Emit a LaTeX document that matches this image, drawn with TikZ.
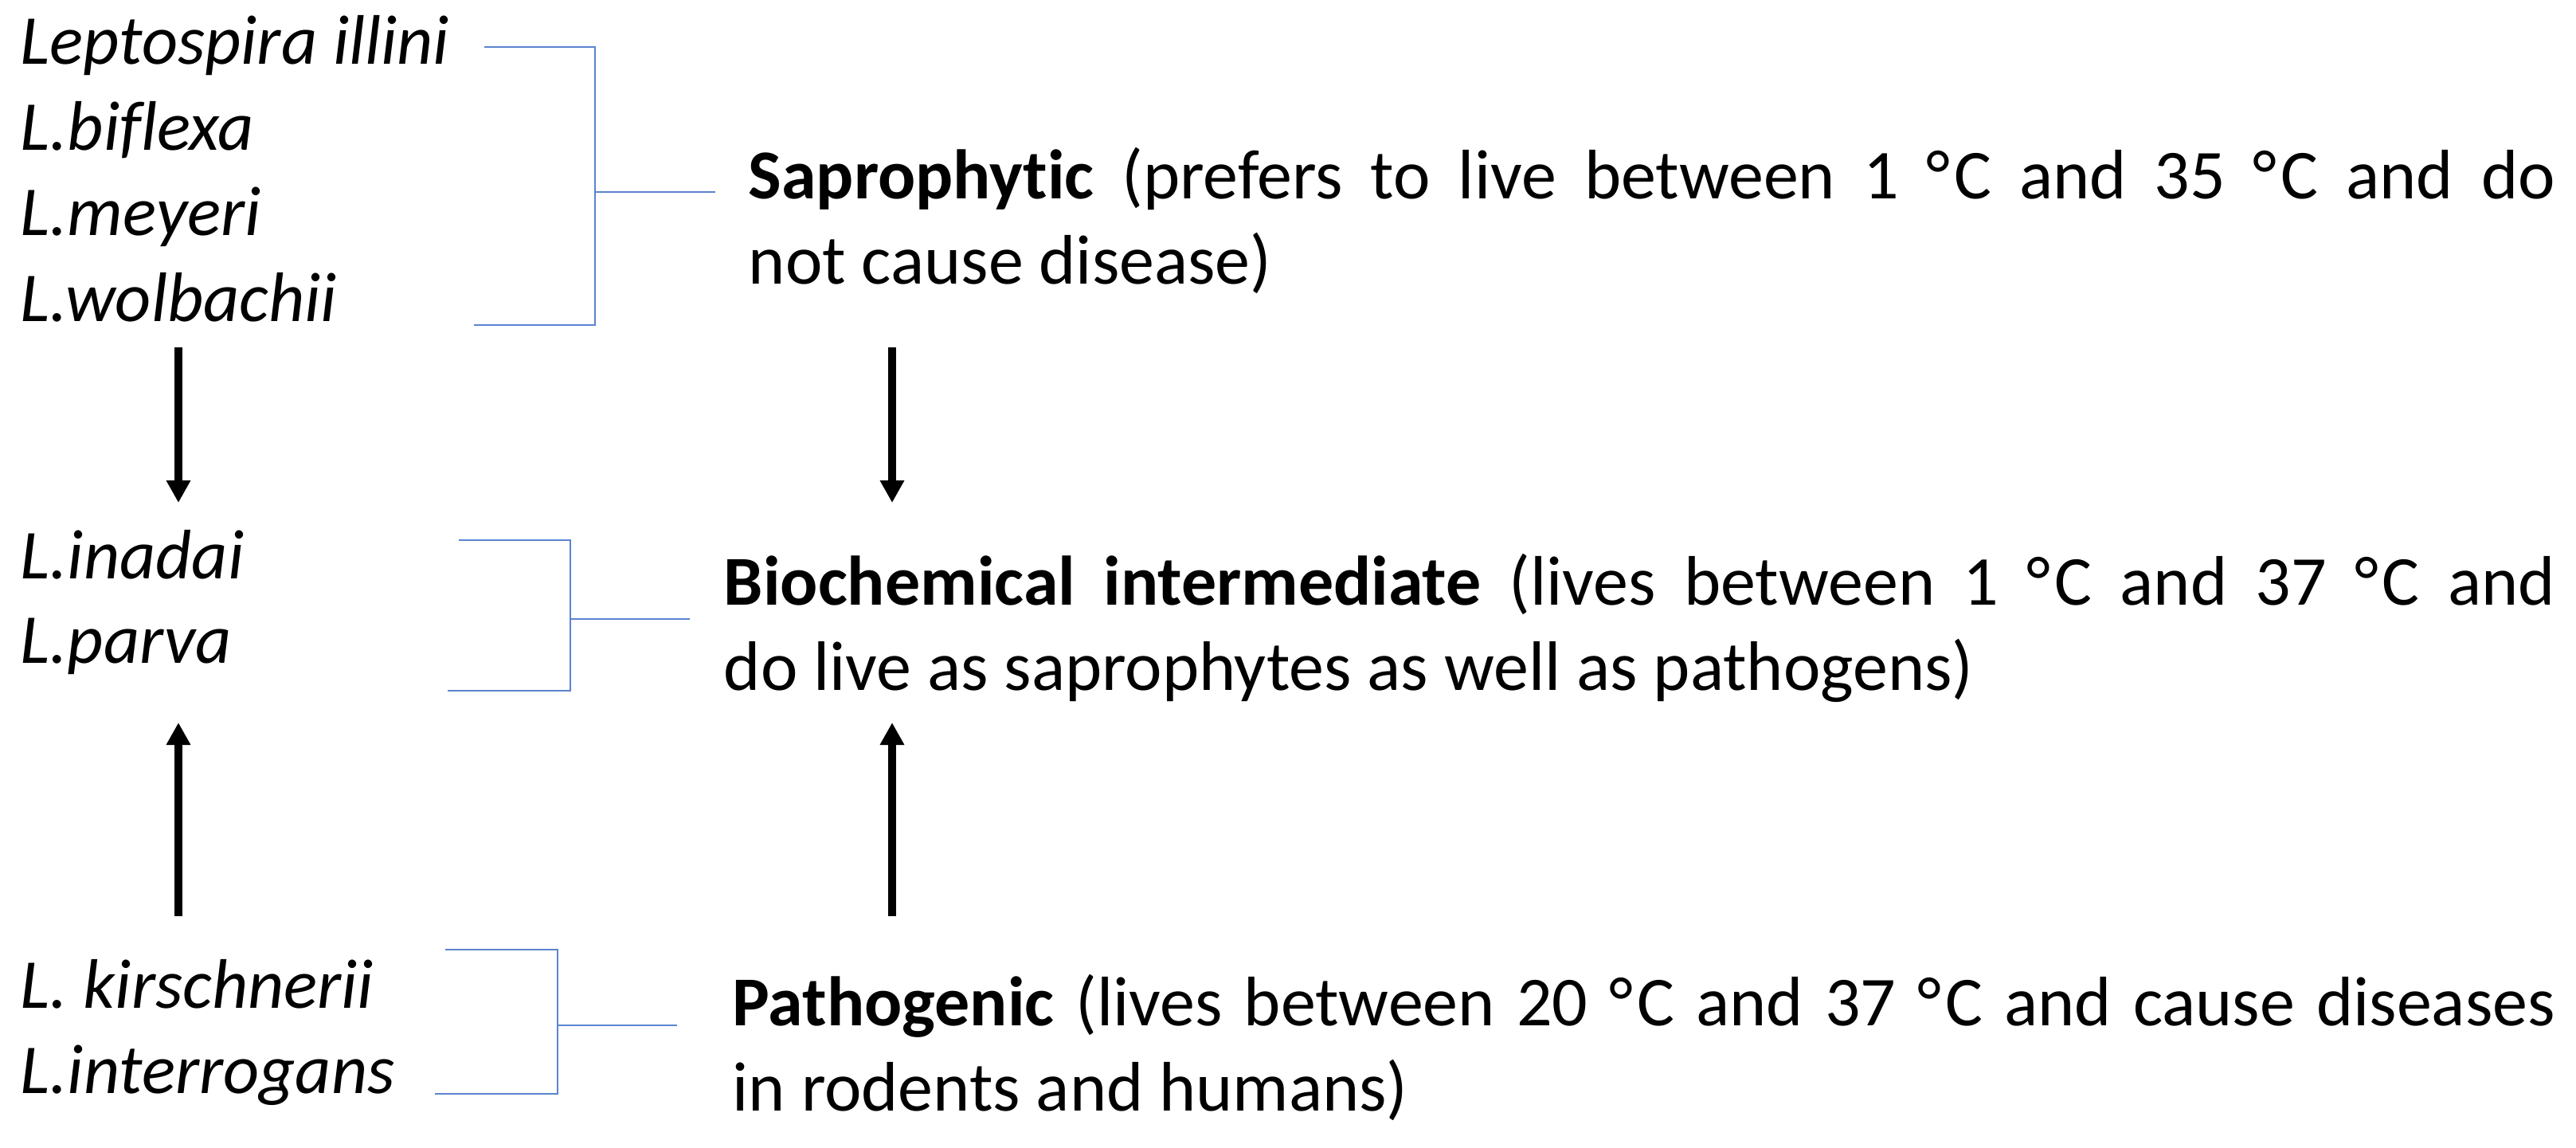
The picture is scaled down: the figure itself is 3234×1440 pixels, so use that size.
\documentclass[tikz,border=0pt]{standalone}
\usepackage{fontspec}
\setmainfont{Carlito}[Ligatures=NoCommon]
\usetikzlibrary{arrows.meta}
\definecolor{brk}{HTML}{5B83D0}
\tikzset{
  species/.style={anchor=base west, inner sep=0pt, font=\fontsize{22}{26.75}\selectfont\itshape},
  desc/.style={anchor=base west, inner sep=0pt, font=\fontsize{22}{26.75}\selectfont},
  brline/.style={draw=brk, line width=0.7pt},
  flow/.style={draw=black, line width=2.3pt, -{Triangle[width=7.2pt,length=7pt]}},
}
\newcommand{\descbox}[2]{\parbox[t]{#1}{\tolerance=10000\hbadness=10000 #2}}
\newcommand{\dgC}{°\kern1.2pt C}
\begin{document}
\begin{tikzpicture}[x=0.25pt,y=-0.25pt]
\useasboundingbox (0,0) rectangle (3234,1440);
\fill[white] (0,0) rectangle (3234,1440);

% species lists
\node[species] (s1) at (25,80)  {Leptospira illini};
\node[species] (s2) at (25,188) {L.biflexa};
\node[species] (s3) at (25,295) {L.meyeri};
\node[species] (s4) at (25,403) {L.wolbachii};
\node[species] (s5) at (25,726) {L.inadai};
\node[species] (s6) at (25,832) {L.parva};
\node[species] (s7) at (25,1265) {L. kirschnerii};
\node[species] (s8) at (25,1372) {L.interrogans};

% descriptions
\node[desc] (sap) at (939,249) {\descbox{567pt}{\textbf{Saprophytic} (prefers to live between 1 \dgC{} and 35 \dgC{} and do\linebreak not cause disease)}};
\node[desc] (bio) at (908,759) {\descbox{574.75pt}{\textbf{Biochemical intermediate} (lives between 1 \dgC{} and 37 \dgC{} and\linebreak do live as saprophytes as well as pathogens)}};
\node[desc] (pat) at (919,1287) {\descbox{572pt}{\textbf{Pathogenic} (lives between 20 \dgC{} and 37 \dgC{} and cause diseases\linebreak in rodents and humans)}};

% bracket 1
\coordinate (b1a) at (608,59);
\coordinate (b1b) at (747,59);
\coordinate (b1c) at (747,408);
\coordinate (b1d) at (595,408);
\coordinate (b1m) at (747,241);
\coordinate (b1e) at (898,241);
\draw[brline] (b1a) -- (b1b) -- (b1c) -- (b1d);
\draw[brline] (b1m) -- (b1e);

% bracket 2
\coordinate (b2a) at (576,678);
\coordinate (b2b) at (716,678);
\coordinate (b2c) at (716,867);
\coordinate (b2d) at (562,867);
\coordinate (b2m) at (716,777);
\coordinate (b2e) at (866,777);
\draw[brline] (b2a) -- (b2b) -- (b2c) -- (b2d);
\draw[brline] (b2m) -- (b2e);

% bracket 3
\coordinate (b3a) at (559,1192);
\coordinate (b3b) at (700,1192);
\coordinate (b3c) at (700,1373);
\coordinate (b3d) at (546,1373);
\coordinate (b3m) at (700,1287);
\coordinate (b3e) at (850,1287);
\draw[brline] (b3a) -- (b3b) -- (b3c) -- (b3d);
\draw[brline] (b3m) -- (b3e);

% arrows
\coordinate (la1) at (224,436);
\coordinate (la2) at (224,631);
\coordinate (ra1) at (1120,436);
\coordinate (ra2) at (1120,631);
\coordinate (la3) at (224,1150);
\coordinate (la4) at (224,907);
\coordinate (ra3) at (1120,1150);
\coordinate (ra4) at (1120,907);
\draw[flow] (la1) -- (la2);
\draw[flow] (ra1) -- (ra2);
\draw[flow] (la3) -- (la4);
\draw[flow] (ra3) -- (ra4);
\end{tikzpicture}
\end{document}
